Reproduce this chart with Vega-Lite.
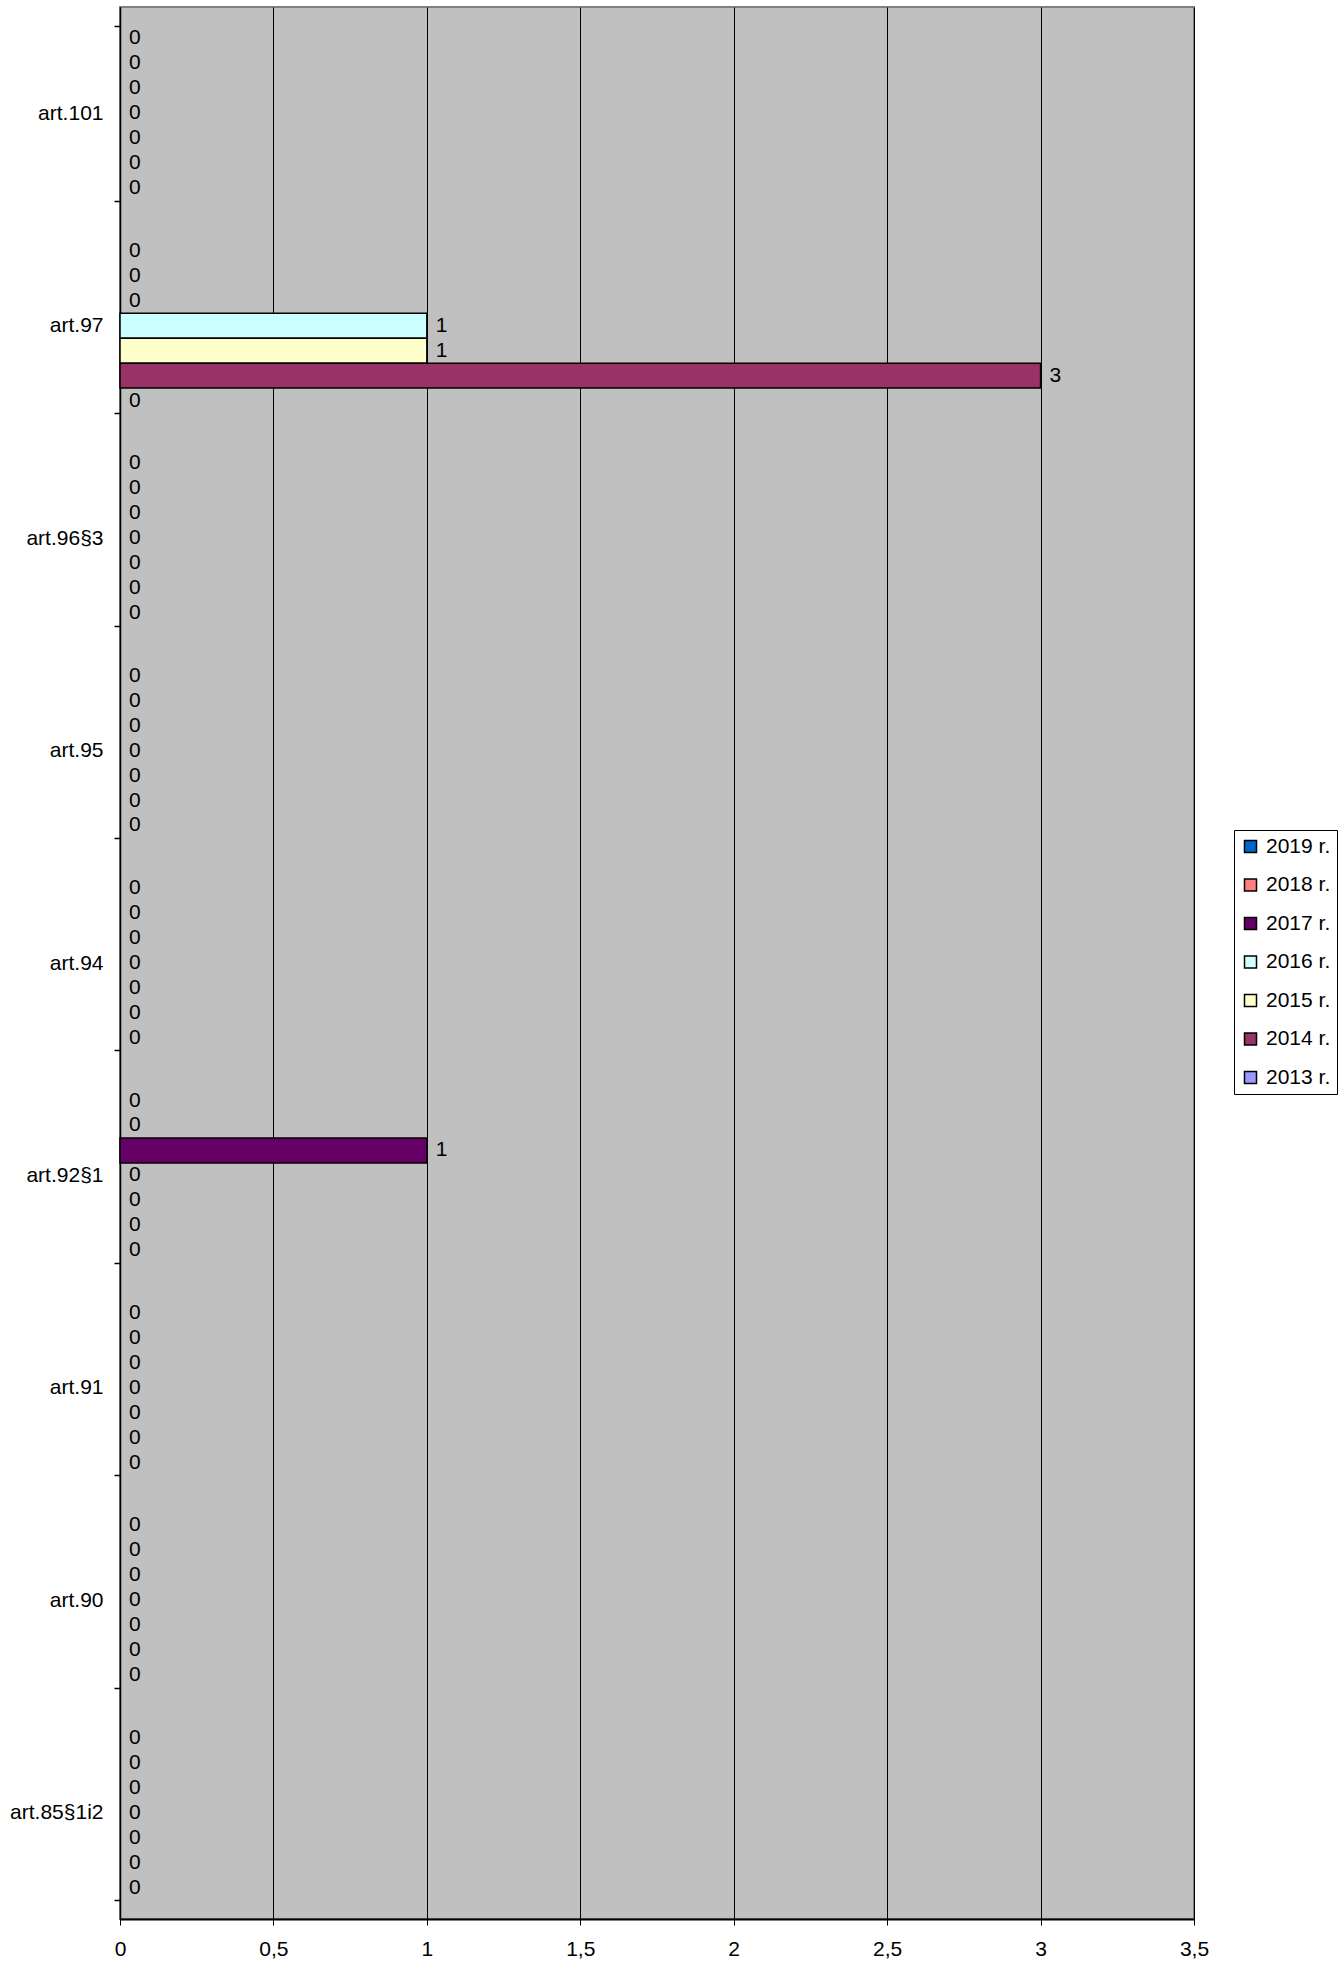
{
  "$schema": "https://vega.github.io/schema/vega-lite/v6.json",
  "autosize": {"type": "none"},
  "padding": {"left": 120, "top": 7, "right": 148, "bottom": 47},
  "width": 1074,
  "height": 1912,
  "background": "white",
  "config": {
    "font": "Liberation Sans",
    "view": {"fill": "#C0C0C0", "stroke": "#808080", "strokeWidth": 2}
  },
  "data": {
    "values": [
      {"a": "art.101", "y": "2019 r.", "v": 0}, {"a": "art.101", "y": "2018 r.", "v": 0}, {"a": "art.101", "y": "2017 r.", "v": 0}, {"a": "art.101", "y": "2016 r.", "v": 0}, {"a": "art.101", "y": "2015 r.", "v": 0}, {"a": "art.101", "y": "2014 r.", "v": 0}, {"a": "art.101", "y": "2013 r.", "v": 0},
      {"a": "art.97", "y": "2019 r.", "v": 0}, {"a": "art.97", "y": "2018 r.", "v": 0}, {"a": "art.97", "y": "2017 r.", "v": 0}, {"a": "art.97", "y": "2016 r.", "v": 1}, {"a": "art.97", "y": "2015 r.", "v": 1}, {"a": "art.97", "y": "2014 r.", "v": 3}, {"a": "art.97", "y": "2013 r.", "v": 0},
      {"a": "art.96§3", "y": "2019 r.", "v": 0}, {"a": "art.96§3", "y": "2018 r.", "v": 0}, {"a": "art.96§3", "y": "2017 r.", "v": 0}, {"a": "art.96§3", "y": "2016 r.", "v": 0}, {"a": "art.96§3", "y": "2015 r.", "v": 0}, {"a": "art.96§3", "y": "2014 r.", "v": 0}, {"a": "art.96§3", "y": "2013 r.", "v": 0},
      {"a": "art.95", "y": "2019 r.", "v": 0}, {"a": "art.95", "y": "2018 r.", "v": 0}, {"a": "art.95", "y": "2017 r.", "v": 0}, {"a": "art.95", "y": "2016 r.", "v": 0}, {"a": "art.95", "y": "2015 r.", "v": 0}, {"a": "art.95", "y": "2014 r.", "v": 0}, {"a": "art.95", "y": "2013 r.", "v": 0},
      {"a": "art.94", "y": "2019 r.", "v": 0}, {"a": "art.94", "y": "2018 r.", "v": 0}, {"a": "art.94", "y": "2017 r.", "v": 0}, {"a": "art.94", "y": "2016 r.", "v": 0}, {"a": "art.94", "y": "2015 r.", "v": 0}, {"a": "art.94", "y": "2014 r.", "v": 0}, {"a": "art.94", "y": "2013 r.", "v": 0},
      {"a": "art.92§1", "y": "2019 r.", "v": 0}, {"a": "art.92§1", "y": "2018 r.", "v": 0}, {"a": "art.92§1", "y": "2017 r.", "v": 1}, {"a": "art.92§1", "y": "2016 r.", "v": 0}, {"a": "art.92§1", "y": "2015 r.", "v": 0}, {"a": "art.92§1", "y": "2014 r.", "v": 0}, {"a": "art.92§1", "y": "2013 r.", "v": 0},
      {"a": "art.91", "y": "2019 r.", "v": 0}, {"a": "art.91", "y": "2018 r.", "v": 0}, {"a": "art.91", "y": "2017 r.", "v": 0}, {"a": "art.91", "y": "2016 r.", "v": 0}, {"a": "art.91", "y": "2015 r.", "v": 0}, {"a": "art.91", "y": "2014 r.", "v": 0}, {"a": "art.91", "y": "2013 r.", "v": 0},
      {"a": "art.90", "y": "2019 r.", "v": 0}, {"a": "art.90", "y": "2018 r.", "v": 0}, {"a": "art.90", "y": "2017 r.", "v": 0}, {"a": "art.90", "y": "2016 r.", "v": 0}, {"a": "art.90", "y": "2015 r.", "v": 0}, {"a": "art.90", "y": "2014 r.", "v": 0}, {"a": "art.90", "y": "2013 r.", "v": 0},
      {"a": "art.85§1i2", "y": "2019 r.", "v": 0}, {"a": "art.85§1i2", "y": "2018 r.", "v": 0}, {"a": "art.85§1i2", "y": "2017 r.", "v": 0}, {"a": "art.85§1i2", "y": "2016 r.", "v": 0}, {"a": "art.85§1i2", "y": "2015 r.", "v": 0}, {"a": "art.85§1i2", "y": "2014 r.", "v": 0}, {"a": "art.85§1i2", "y": "2013 r.", "v": 0}
    ]
  },
  "encoding": {
    "y": {
      "field": "a", "type": "nominal",
      "sort": ["art.101", "art.97", "art.96§3", "art.95", "art.94", "art.92§1", "art.91", "art.90", "art.85§1i2"],
      "scale": {"paddingInner": 0.177, "paddingOuter": 0.0885},
      "axis": {
        "title": null, "tickBand": "extent", "tickSize": 6, "tickColor": "black", "tickWidth": 1.5,
        "domainColor": "black", "domainWidth": 1.5, "labelFontSize": 21, "labelColor": "black",
        "labelPadding": 11, "grid": false
      }
    },
    "yOffset": {
      "field": "y", "type": "nominal",
      "sort": ["2019 r.", "2018 r.", "2017 r.", "2016 r.", "2015 r.", "2014 r.", "2013 r."],
      "scale": {"paddingInner": 0, "paddingOuter": 0}
    },
    "x": {
      "field": "v", "type": "quantitative",
      "scale": {"domain": [0, 3.5], "nice": false},
      "axis": {
        "title": null, "values": [0, 0.5, 1, 1.5, 2, 2.5, 3, 3.5],
        "format": "~g",
        "labelExpr": "replace(datum.label, '.', ',')",
        "grid": true, "gridColor": "black", "gridWidth": 1, "gridOpacity": 1,
        "tickSize": 6, "tickColor": "black", "domainColor": "black", "domainWidth": 2,
        "labelFontSize": 21, "labelColor": "black", "labelPadding": 13, "labelFlush": false
      }
    }
  },
  "layer": [
    {
      "mark": {"type": "bar", "stroke": "black"},
      "encoding": {
        "color": {
          "field": "y", "type": "nominal",
          "scale": {
            "domain": ["2019 r.", "2018 r.", "2017 r.", "2016 r.", "2015 r.", "2014 r.", "2013 r."],
            "range": ["#0066CC", "#FF8080", "#660066", "#CCFFFF", "#FFFFCC", "#993366", "#9999FF"]
          },
          "legend": {
            "title": null, "orient": "none", "legendX": 1114, "legendY": 823,
            "symbolType": "square", "symbolSize": 144, "symbolStrokeColor": "black", "symbolStrokeWidth": 1.5,
            "labelFontSize": 21, "labelColor": "black", "labelOffset": 5, "rowPadding": 16.5,
            "padding": 6, "strokeColor": "black", "fillColor": "white"
          }
        },
        "strokeWidth": {"condition": {"test": "datum.v > 0", "value": 1.5}, "value": 0}
      }
    },
    {
      "mark": {"type": "text", "align": "left", "baseline": "middle", "dx": 9, "fontSize": 21, "color": "black"},
      "encoding": {"text": {"field": "v", "type": "quantitative"}}
    }
  ]
}
